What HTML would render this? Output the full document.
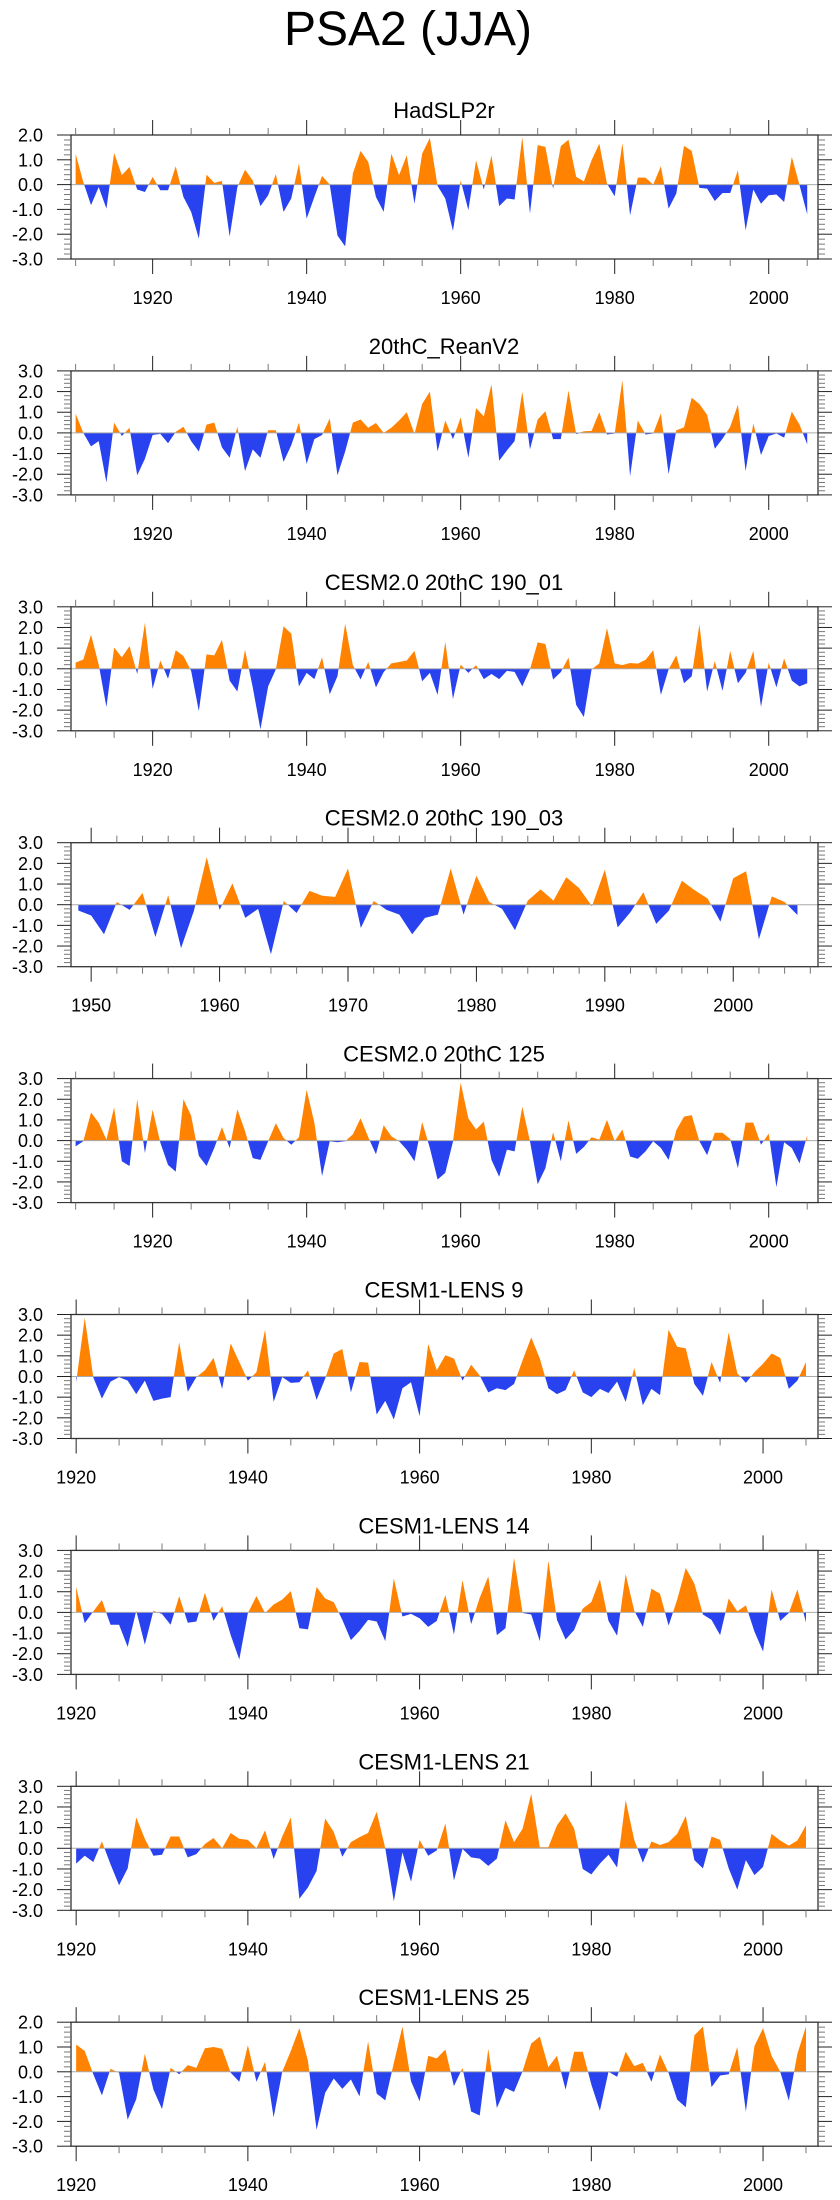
<!DOCTYPE html>
<html><head><meta charset="utf-8"><style>
html,body{margin:0;padding:0;background:#fff;}
svg{display:block;font-family:"Liberation Sans",sans-serif;}
</style></head><body>
<svg id="chart" width="840" height="2200" viewBox="0 0 840 2200" xmlns="http://www.w3.org/2000/svg">
<rect width="840" height="2200" fill="#fff"/>
<text x="408" y="45" font-size="48" text-anchor="middle">PSA2 (JJA)</text>
</svg>
<script>
const titles = ["HadSLP2r","20thC_ReanV2","CESM2.0 20thC 190_01","CESM2.0 20thC 190_03","CESM2.0 20thC 125","CESM1-LENS 9","CESM1-LENS 14","CESM1-LENS 21","CESM1-LENS 25"];
const startYears = [1910,1910,1910,1949,1910,1920,1920,1920,1920];
const yMaxes = [2,3,3,3,3,3,3,3,2];
const yMins = [-3,-3,-3,-3,-3,-3,-3,-3,-3];
const xTickLabels20 = [1920,1940,1960,1980,2000];
const xTickLabels10 = [1950,1960,1970,1980,1990,2000];

const s1 = [1.25,0.1,-0.83,-0.1,-0.97,1.28,0.38,0.71,-0.2,-0.3,0.31,-0.23,-0.23,0.74,-0.5,-1.1,-2.18,0.4,0.07,0.15,-2.1,-0.1,0.6,0.17,-0.87,-0.43,0.42,-1.1,-0.56,0.85,-1.37,-0.5,0.35,0,-2.05,-2.49,0.45,1.36,0.91,-0.5,-1.1,1.25,0.38,1.18,-0.77,1.25,1.88,-0.05,-0.56,-1.87,0.17,-1.03,0.98,-0.2,1.18,-0.87,-0.56,-0.6,1.92,-1.17,1.59,1.52,-0.16,1.55,1.81,0.31,0.13,0.98,1.65,0.04,-0.47,1.68,-1.24,0.28,0.28,0,0.74,-0.97,-0.36,1.56,1.36,-0.13,-0.16,-0.66,-0.34,-0.34,0.58,-1.84,-0.2,-0.77,-0.43,-0.4,-0.7,1.12,-0.02,-1.2];
const s2 = [0.93,0,-0.65,-0.4,-2.4,0.5,-0.15,0.25,-2.05,-1.25,-0.1,-0.05,-0.5,0.05,0.3,-0.4,-0.9,0.4,0.5,-0.7,-1.2,0.3,-1.85,-0.8,-1.2,0.13,0.13,-1.4,-0.6,0.5,-1.5,-0.3,-0.1,0.7,-2.05,-0.9,0.5,0.65,0.25,0.48,0,0.25,0.6,1.0,-0.05,1.4,2.0,-0.9,0.6,-0.3,0.75,-1.2,1.2,0.8,2.35,-1.35,-0.85,-0.4,2.0,-0.8,0.65,1.05,-0.3,-0.3,2.05,-0.06,0.08,0.1,1.0,-0.08,-0.03,2.55,-2.1,0.6,-0.08,-0.03,0.95,-2.0,0.13,0.27,1.7,1.4,0.87,-0.77,-0.28,0.3,1.36,-1.85,0.46,-1.07,-0.15,-0.03,-0.23,1.03,0.4,-0.55];
const s3 = [0.3,0.45,1.65,0.2,-1.85,1.03,0.55,1.1,-0.25,2.23,-0.97,0.4,-0.48,0.9,0.62,-0.1,-2.05,0.7,0.65,1.4,-0.57,-1.1,0.92,-0.9,-2.93,-0.85,-0.03,2.05,1.7,-0.85,-0.2,-0.5,0.55,-1.23,-0.36,2.18,0.18,-0.52,0.33,-0.9,-0.16,0.26,0.33,0.4,0.87,-0.6,-0.2,-1.26,1.3,-1.46,0.2,-0.2,0.18,-0.5,-0.25,-0.5,-0.1,-0.15,-0.85,-0.03,1.28,1.2,-0.52,-0.16,0.54,-1.75,-2.33,-0.03,0.26,1.97,0.26,0.18,0.28,0.25,0.43,0.9,-1.26,-0.03,0.65,-0.7,-0.36,2.15,-1.1,0.38,-1.07,0.87,-0.7,-0.2,0.87,-1.84,0.3,-0.9,0.5,-0.57,-0.85,-0.7];
const s4 = [-0.28,-0.52,-1.43,0.13,-0.25,0.57,-1.56,0.46,-2.1,-0.3,2.3,-0.25,1.03,-0.64,-0.2,-2.4,0.18,-0.4,0.67,0.43,0.38,1.75,-1.13,0.18,-0.25,-0.48,-1.43,-0.64,-0.48,1.75,-0.48,1.4,0.13,-0.2,-1.23,0.2,0.74,0.2,1.33,0.8,-0.07,1.7,-1.1,-0.36,0.6,-0.93,-0.28,1.16,0.7,0.3,-0.82,1.28,1.62,-1.67,0.4,0.13,-0.5];
const s5 = [-0.28,-0.03,1.36,0.87,0.05,1.6,-1.0,-1.23,2.0,-0.6,1.5,-0.1,-1.18,-1.5,2.0,1.2,-0.74,-1.23,-0.36,0.65,-0.36,1.52,0.46,-0.85,-0.93,-0.03,0.84,0.13,-0.2,0.16,2.46,0.87,-1.72,-0.03,-0.08,-0.03,0.3,1.08,0.16,-0.66,0.74,0.21,-0.03,-0.44,-1.0,0.9,-0.36,-1.88,-1.56,-0.05,2.8,1.07,0.54,0.92,-0.93,-1.75,-0.44,-0.52,1.64,-0.03,-2.11,-1.34,0.41,-1.0,0.98,-0.64,-0.31,0.16,0.05,1.0,-0.03,0.54,-0.77,-0.88,-0.52,-0.03,-0.36,-0.93,0.5,1.16,1.23,-0.03,-0.7,0.38,0.38,0.08,-1.34,0.87,0.87,-0.2,0.34,-2.25,-0.08,-0.36,-1.1,0.25];
const s6 = [-0.28,2.84,-0.05,-1.07,-0.25,-0.03,-0.2,-0.85,-0.2,-1.18,-1.07,-1.0,1.66,-0.74,-0.03,0.3,0.9,-0.6,1.6,0.7,-0.2,0.21,2.26,-1.23,-0.03,-0.31,-0.28,0.3,-1.13,-0.1,1.11,1.33,-0.77,0.7,0.67,-1.84,-1.18,-2.08,-0.57,-0.28,-1.92,1.57,0.3,1.03,0.87,-0.2,0.57,0.05,-0.77,-0.57,-0.66,-0.36,0.79,1.89,0.87,-0.57,-0.85,-0.66,0.3,-0.77,-1.0,-0.6,-0.8,-0.25,-1.23,0.41,-1.39,-0.6,-0.9,2.26,1.44,1.36,-0.36,-0.93,0.7,-0.31,2.13,0.16,-0.31,0.21,0.62,1.11,0.9,-0.6,-0.2,0.7];
const s7 = [1.23,-0.52,0.05,0.6,-0.6,-0.6,-1.67,0.08,-1.56,0.08,-0.08,-0.6,0.79,-0.5,-0.44,0.95,-0.41,0.3,-1.1,-2.28,-0.03,0.79,-0.03,0.38,0.62,1.03,-0.77,-0.82,1.23,0.67,0.5,-0.36,-1.34,-0.9,-0.36,-0.44,-1.39,1.64,-0.2,-0.07,-0.28,-0.7,-0.41,0.84,-1.07,1.56,-0.57,0.7,1.74,-1.1,-0.77,2.64,-0.03,-0.1,-1.39,2.5,-0.36,-1.31,-0.85,0.18,0.5,1.6,-0.41,-1.13,1.85,0.08,-0.7,1.15,0.9,-0.64,0.62,2.15,1.39,-0.1,-0.36,-1.1,0.67,0.05,0.34,-0.93,-1.89,1.11,-0.41,-0.03,1.11,-0.48];
const s8 = [-0.74,-0.36,-0.66,0.33,-0.77,-1.79,-0.97,1.49,0.46,-0.36,-0.31,0.57,0.57,-0.44,-0.28,0.21,0.5,0,0.74,0.46,0.41,0,0.87,-0.52,0.57,1.49,-2.44,-1.89,-1.1,1.44,0.79,-0.41,0.3,0.54,0.74,1.77,0,-2.57,-0.2,-1.62,0.41,-0.36,-0.1,1.2,-1.56,-0.03,-0.44,-0.5,-0.85,-0.5,1.36,0.3,0.95,2.64,0.05,0.05,1.11,1.69,0.95,-1.0,-1.26,-0.74,-0.31,-0.93,2.34,0.41,-0.7,0.33,0.16,0.3,0.7,1.56,-0.57,-0.97,0.57,0.41,-0.97,-2.0,-0.57,-1.3,-0.9,0.7,0.38,0.13,0.38,1.11];
const s9 = [1.1,0.84,-0.1,-0.95,0.12,-0.04,-1.93,-1.1,0.73,-0.72,-1.5,0.16,-0.1,0.27,0.16,0.95,1.0,0.93,-0.04,-0.4,1.07,-0.4,0.4,-1.84,0,0.84,1.76,0.43,-2.34,-0.85,-0.27,-0.69,-0.31,-0.99,1.22,-0.88,-1.15,0.36,1.82,-0.38,-1.19,0.64,0.54,0.9,-0.58,0.16,-1.6,-1.76,0.93,-1.46,-0.65,-0.81,0.03,1.14,1.42,0.19,0.64,-0.72,0.81,0.81,-0.51,-1.57,0,-0.2,0.81,0.23,0.36,-0.4,0.7,-0.05,-1.12,-1.43,1.47,1.82,-0.62,-0.15,-0.1,1.0,-1.6,1.04,1.76,0.64,0,-1.16,0.73,1.82];
const seriesList = [s1,s2,s3,s4,s5,s6,s7,s8,s9];

const NS = "http://www.w3.org/2000/svg";
const svg = document.getElementById("chart");
const PL = 71, PR = 818, PH = 124;
function mk(tag, attrs, parent){ const e=document.createElementNS(NS,tag); for(const k in attrs) e.setAttribute(k,attrs[k]); (parent||svg).appendChild(e); return e; }

seriesList.forEach((vals, p) => {
  const top = 135 + 235.9*p, bot = top + PH;
  const y0 = startYears[p];
  const y1 = y0 + vals.length - 1;
  const pad = (p===3) ? 0.57 : 0.6;
  const xMin = y0 - pad, xMax = y1 + 1.4 + (p===3?0.2:0);
  const xs = yr => PL + (yr - xMin)/(xMax - xMin)*(PR-PL);
  const ys = v => top + (yMaxes[p]-v)/(yMaxes[p]-yMins[p])*PH;
  const g = mk("g", {});
  
  
  const t = mk("text", {x:444, y:top-17, "font-size":22, "text-anchor":"middle"}, g);
  t.textContent = titles[p];
  
  
  const zy = ys(0);
  const cid = "c"+p;
  const defs = mk("defs", {}, g);
  const ca = mk("clipPath", {id:cid+"a"}, defs); mk("rect",{x:PL,y:top,width:PR-PL,height:zy-top},ca);
  const cb = mk("clipPath", {id:cid+"b"}, defs); mk("rect",{x:PL,y:zy,width:PR-PL,height:bot-zy},cb);
  let d = "M"+xs(y0).toFixed(2)+","+zy.toFixed(2);
  vals.forEach((v,i)=>{ d += " L"+xs(y0+i).toFixed(2)+","+ys(v).toFixed(2); });
  d += " L"+xs(y1).toFixed(2)+","+zy.toFixed(2)+" Z";
  const pa = mk("path",{d:d, fill:"#ff8200", "clip-path":"url(#"+cid+"a)"}, g);
  
  
  const pb = mk("path",{d:d, fill:"#2742ee", "clip-path":"url(#"+cid+"b)"}, g);
  
  
  const zl = mk("line",{x1:PL,x2:PR,y1:zy,y2:zy,stroke:"#aaa","stroke-width":1}, g);
  
  
  const fr = mk("rect",{x:PL,y:top,width:PR-PL,height:PH,fill:"none",stroke:"#333","stroke-width":1.3}, g);
  
  
  // y ticks
  for (let v=yMins[p]; v<=yMaxes[p]+1e-6; v+=0.2){
    const yy = ys(v); const major = Math.abs(v-Math.round(v))<1e-6;
    const L = major?14:7;
    mk("line",{x1:PL-L,x2:PL,y1:yy,y2:yy,stroke:major?"#222":"#777","stroke-width":1},g);
    mk("line",{x1:PR,x2:PR+L,y1:yy,y2:yy,stroke:major?"#222":"#777","stroke-width":1},g);
    if (major){
      const lt = mk("text",{x:43,y:yy+6.5,"font-size":18,"text-anchor":"end"},g);
      lt.textContent = Math.round(v).toFixed(1);
      
      
    }
  }
  // x ticks
  const majStep = p===3?10:20, minStep = p===3?2:5;
  for (let yr=Math.ceil(xMin/minStep)*minStep; yr<=xMax; yr+=minStep){
    const xx = xs(yr); const major = yr%majStep===0;
    const L = major?15:7;
    mk("line",{x1:xx,x2:xx,y1:top-L,y2:top,stroke:major?"#222":"#777","stroke-width":1},g);
    mk("line",{x1:xx,x2:xx,y1:bot,y2:bot+L,stroke:major?"#222":"#777","stroke-width":1},g);
  }
  const labs = p===3 ? xTickLabels10 : xTickLabels20;
  labs.forEach(yr=>{
    const xt = mk("text",{x:xs(yr),y:bot+45,"font-size":18,"text-anchor":"middle"},g);
    xt.textContent = yr;
    
    
  });
});
</script>
</body></html>
